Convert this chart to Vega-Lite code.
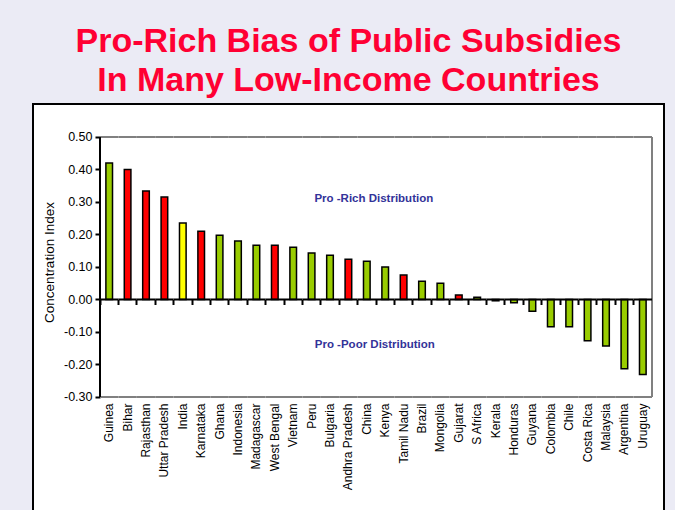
{
  "$schema": "https://vega.github.io/schema/vega-lite/v6.json",
  "width": 631,
  "height": 410,
  "autosize": {"type": "none"},
  "padding": {"left": 33, "top": 104, "right": 11, "bottom": -4},
  "background": "#EBEBF5",
  "title": {
    "text": ["Pro-Rich Bias of Public Subsidies", "In Many Low-Income Countries"],
    "font": "Liberation Sans",
    "fontSize": 34,
    "fontWeight": "bold",
    "color": "#FF0033",
    "lineHeight": 39,
    "anchor": "middle",
    "baseline": "alphabetic",
    "offset": 14,
    "dy": 35
  },
  "config": {
    "view": {"fill": "white", "stroke": "black", "strokeWidth": 2},
    "font": "Liberation Sans"
  },
  "data": {
    "values": [
      {"country": "Guinea", "value": 0.42, "type": "Country"},
      {"country": "Bihar", "value": 0.40, "type": "Indian state"},
      {"country": "Rajasthan", "value": 0.334, "type": "Indian state"},
      {"country": "Uttar Pradesh", "value": 0.315, "type": "Indian state"},
      {"country": "India", "value": 0.235, "type": "India"},
      {"country": "Karnataka", "value": 0.21, "type": "Indian state"},
      {"country": "Ghana", "value": 0.198, "type": "Country"},
      {"country": "Indonesia", "value": 0.18, "type": "Country"},
      {"country": "Madagascar", "value": 0.167, "type": "Country"},
      {"country": "West Bengal", "value": 0.167, "type": "Indian state"},
      {"country": "Vietnam", "value": 0.161, "type": "Country"},
      {"country": "Peru", "value": 0.143, "type": "Country"},
      {"country": "Bulgaria", "value": 0.136, "type": "Country"},
      {"country": "Andhra Pradesh", "value": 0.124, "type": "Indian state"},
      {"country": "China", "value": 0.118, "type": "Country"},
      {"country": "Kenya", "value": 0.10, "type": "Country"},
      {"country": "Tamil Nadu", "value": 0.075, "type": "Indian state"},
      {"country": "Brazil", "value": 0.056, "type": "Country"},
      {"country": "Mongolia", "value": 0.05, "type": "Country"},
      {"country": "Gujarat", "value": 0.014, "type": "Indian state"},
      {"country": "S Africa", "value": 0.007, "type": "Country"},
      {"country": "Kerala", "value": -0.004, "type": "Indian state"},
      {"country": "Honduras", "value": -0.01, "type": "Country"},
      {"country": "Guyana", "value": -0.036, "type": "Country"},
      {"country": "Colombia", "value": -0.084, "type": "Country"},
      {"country": "Chile", "value": -0.084, "type": "Country"},
      {"country": "Costa Rica", "value": -0.127, "type": "Country"},
      {"country": "Malaysia", "value": -0.143, "type": "Country"},
      {"country": "Argentina", "value": -0.213, "type": "Country"},
      {"country": "Uruguay", "value": -0.231, "type": "Country"}
    ]
  },
  "layer": [
    {
      "mark": {"type": "rect", "filled": false, "color": "#808080", "strokeWidth": 2},
      "encoding": {
        "x": {"field": "country", "type": "nominal", "sort": null, "axis": null,
          "scale": {"domain": ["Guinea","Bihar","Rajasthan","Uttar Pradesh","India","Karnataka","Ghana","Indonesia","Madagascar","West Bengal","Vietnam","Peru","Bulgaria","Andhra Pradesh","China","Kenya","Tamil Nadu","Brazil","Mongolia","Gujarat","S Africa","Kerala","Honduras","Guyana","Colombia","Chile","Costa Rica","Malaysia","Argentina","Uruguay"], "range": [67, 619], "paddingInner": 0, "paddingOuter": 0, "round": false}},
        "y": {"datum": 0.5, "type": "quantitative", "axis": null, "scale": {"domain": [-0.66, 0.6015], "nice": false, "zero": false}},
        "y2": {"datum": 0.5}
      }
    },
    {
      "mark": {"type": "rect", "filled": false, "color": "#808080", "strokeWidth": 2},
      "encoding": {
        "x": {"field": "country", "type": "nominal", "sort": null, "axis": null},
        "y": {"datum": -0.3, "type": "quantitative", "axis": null},
        "y2": {"datum": -0.3}
      }
    },
    {
      "transform": [{"filter": "datum.country === 'Uruguay'"}],
      "mark": {"type": "rule", "color": "#808080", "strokeWidth": 2},
      "encoding": {
        "x": {"field": "country", "type": "nominal", "sort": null, "bandPosition": 1, "axis": null},
        "y": {"datum": 0.5, "type": "quantitative", "axis": null},
        "y2": {"datum": -0.3}
      }
    },
    {
      "mark": {"type": "bar", "width": {"band": 0.36}, "stroke": "black", "strokeWidth": 1.5},
      "encoding": {
        "x": {"field": "country", "type": "nominal", "sort": null,
          "axis": {"orient": "bottom", "offset": -117, "domain": false, "ticks": false, "grid": false, "labelAngle": -90, "labelPadding": 6, "labelFontSize": 12, "labelColor": "black", "labelFont": "Liberation Sans", "title": null}},
        "y": {"field": "value", "type": "quantitative",
          "axis": {"orient": "left", "offset": -67, "values": [-0.3, -0.2, -0.1, 0, 0.1, 0.2, 0.3, 0.4, 0.5], "labelExpr": "replace(format(datum.value, '.2f'), '\u2212', '-')", "domain": false, "grid": false, "tickSize": 5, "tickWidth": 2, "tickColor": "black", "labelFontSize": 12.5, "labelColor": "black", "labelFont": "Liberation Sans", "labelPadding": 3, "title": "Concentration Index", "titleFont": "Liberation Sans", "titleFontSize": 13.5, "titleFontWeight": "normal", "titleColor": "black", "titleAngle": -90, "titleX": -51, "titleY": 158, "titleAlign": "center", "titleBaseline": "middle"}},
        "y2": {"datum": 0},
        "color": {"field": "type", "type": "nominal", "legend": null,
          "scale": {"domain": ["Country", "India", "Indian state"], "range": ["#99CC00", "#FFFF00", "#FF0000"]}}
      }
    },
    {
      "mark": {"type": "rect", "filled": false, "color": "black", "strokeWidth": 2},
      "encoding": {
        "x": {"field": "country", "type": "nominal", "sort": null,
          "axis": {"orient": "bottom", "offset": -214.5, "domain": false, "labels": false, "ticks": true, "tickSize": 5, "tickWidth": 2, "tickColor": "black", "bandPosition": 0, "grid": false, "title": null}},
        "y": {"datum": 0, "type": "quantitative", "axis": null},
        "y2": {"datum": 0}
      }
    },
    {
      "transform": [{"filter": "datum.country === 'Guinea'"}],
      "mark": {"type": "rule", "color": "black", "strokeWidth": 2},
      "encoding": {
        "x": {"field": "country", "type": "nominal", "sort": null, "bandPosition": 0, "axis": null},
        "y": {"datum": 0.5, "type": "quantitative", "axis": null},
        "y2": {"datum": -0.3}
      }
    },
    {
      "data": {"values": [{}]},
      "mark": {"type": "text", "font": "Liberation Sans", "fontSize": 11.5, "fontWeight": "bold", "color": "#333399", "dx": 7},
      "encoding": {
        "x": {"datum": "China", "type": "nominal", "axis": null},
        "y": {"datum": 0.309, "type": "quantitative", "axis": null},
        "text": {"value": "Pro -Rich Distribution"}
      }
    },
    {
      "data": {"values": [{}]},
      "mark": {"type": "text", "font": "Liberation Sans", "fontSize": 11.5, "fontWeight": "bold", "color": "#333399", "dx": 8},
      "encoding": {
        "x": {"datum": "China", "type": "nominal", "axis": null},
        "y": {"datum": -0.14, "type": "quantitative", "axis": null},
        "text": {"value": "Pro -Poor Distribution"}
      }
    }
  ],
  "resolve": {"axis": {"x": "independent", "y": "independent"}}
}
